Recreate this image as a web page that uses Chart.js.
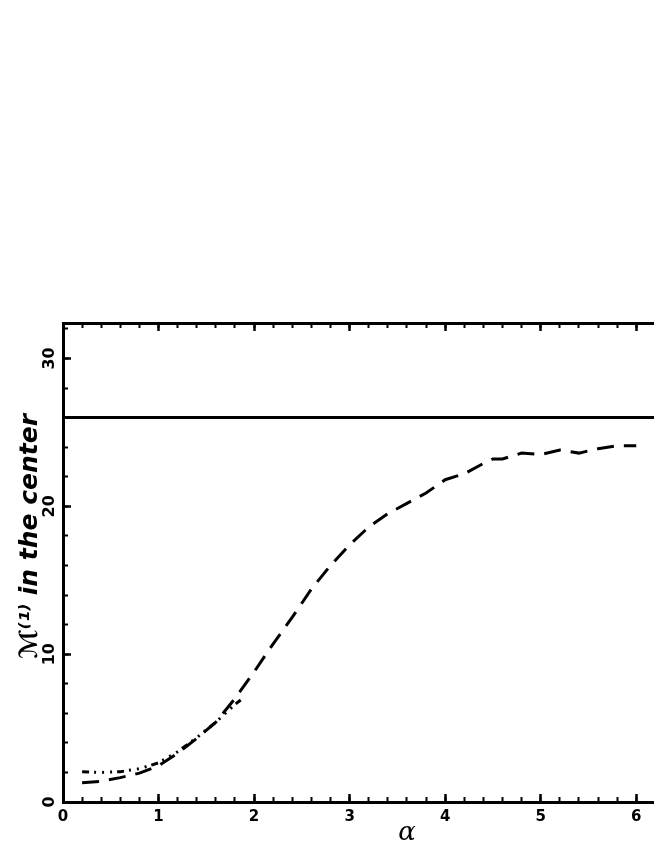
<!DOCTYPE html>
<html><head><meta charset="utf-8">
<script src="https://cdn.jsdelivr.net/npm/chart.js@4"></script>
<style>
html,body{margin:0;padding:0;background:#fff;overflow:hidden;}
#wrap{position:relative;width:751px;height:846px;}
</style></head><body>
<div id="wrap"><canvas id="c" width="751" height="846"></canvas></div>
<script>
// data
const dashedX = [0.2, 0.4, 0.6, 0.8, 1.0, 1.2, 1.4, 1.6, 1.8, 2.0, 2.2, 2.4, 2.6, 2.8, 3.0, 3.2, 3.4, 3.6, 3.8, 4.0, 4.2, 4.4, 4.5, 4.6, 4.8, 5.0, 5.2, 5.4, 5.6, 5.8, 6.0];
const dashedY = [1.3, 1.4, 1.65, 1.95, 2.45, 3.3, 4.3, 5.4, 7.0, 8.8, 10.7, 12.5, 14.4, 16.0, 17.4, 18.6, 19.5, 20.2, 20.9, 21.8, 22.2, 22.9, 23.2, 23.2, 23.6, 23.5, 23.8, 23.6, 23.9, 24.1, 24.1];
const dotX = [0.2, 0.4, 0.6, 0.8, 1.0, 1.2, 1.4, 1.6, 1.8, 1.86];
const dotY = [2.05, 2.0, 2.05, 2.25, 2.65, 3.4, 4.35, 5.4, 6.6, 6.9];
const refX = [0, 7.2];
const refY = [26, 26];
const xRange = [0, 7.2];
const yRange = [0, 32.4];
const xMajorStep = 1, xMinorStep = 0.2;
const yMajorStep = 10, yMinorStep = 2;
const xTitle = 'α';
const yTitle = '      ℳ⁽¹⁾ in the center';

const pts = (xs, ys) => xs.map((x, i) => ({x, y: ys[i]}));
const tickFontX = {family: 'DejaVu Sans', size: 15, weight: 'bold'};
const tickFontY = {family: 'DejaVu Sans', size: 16, weight: 'bold'};

function axis(pos, step, len, width, opts) {
  const horiz = pos === 'top' || pos === 'bottom';
  return Object.assign({
    type: 'linear', position: pos,
    min: horiz ? xRange[0] : yRange[0], max: horiz ? xRange[1] : yRange[1],
    ticks: {stepSize: step, includeBounds: false, display: false, autoSkip: false, color: '#000'},
    grid: {drawOnChartArea: false, drawTicks: true, tickLength: len, tickWidth: width, tickColor: '#000'},
    border: {display: false}
  }, opts);
}

new Chart(document.getElementById('c'), {
  type: 'line',
  data: {
    datasets: [
      {data: pts(refX, refY), borderColor: '#000', borderWidth: 3, pointRadius: 0, xAxisID: 'x', yAxisID: 'y'},
      {data: pts(dashedX, dashedY), borderColor: '#000', borderWidth: 3, borderDash: [17, 10], pointRadius: 0, xAxisID: 'x', yAxisID: 'y'},
      {data: pts(dotX, dotY), borderColor: '#000', borderWidth: 3, borderDash: [7, 5, 2, 6, 2, 6, 2, 5], pointRadius: 0, xAxisID: 'x', yAxisID: 'y'}
    ]
  },
  options: {
    responsive: false, animation: false, devicePixelRatio: 1,
    layout: {padding: {top: 323, left: 0, right: 0, bottom: 0}},
    plugins: {legend: {display: false}, tooltip: {enabled: false}},
    elements: {line: {tension: 0}},
    scales: {
      x: axis('bottom', xMajorStep, -8, 2.5, {
        weight: 1,
        ticks: {stepSize: xMajorStep, includeBounds: false, display: true, autoSkip: false, maxRotation: 0, padding: 14, color: '#000', font: tickFontX},
        border: {display: true, color: '#000', width: 3},
        title: {display: true, text: xTitle, color: '#000', font: {family: 'DejaVu Serif', size: 26, style: 'italic', lineHeight: 1}, padding: {top: 0, bottom: 0}},
        afterFit: s => { s.height = 44; }
      }),
      xMinor: axis('bottom', xMinorStep, -5, 2, {weight: 0, afterFit: s => { s.height = 0; }}),
      xTop: axis('top', xMajorStep, -8, 2.5, {weight: 1, border: {display: true, color: '#000', width: 3}, afterFit: s => { s.height = 0; }}),
      xTopMinor: axis('top', xMinorStep, -5, 2, {weight: 0, afterFit: s => { s.height = 0; }}),
      y: axis('left', yMajorStep, -8, 2.5, {
        weight: 1,
        ticks: {stepSize: yMajorStep, includeBounds: false, display: true, autoSkip: false, minRotation: 90, maxRotation: 90, crossAlign: 'center', padding: 10, color: '#000', font: tickFontY},
        border: {display: true, color: '#000', width: 3},
        title: {display: true, text: yTitle, color: '#000', font: {family: 'DejaVu Sans', size: 25, weight: 'bold', style: 'italic', lineHeight: 1}, padding: {top: 18, bottom: 0}},
        afterFit: s => { s.width = 63; }
      }),
      yMinor: axis('left', yMinorStep, -5, 2, {weight: 0, afterFit: s => { s.width = 0; }})
    }
  }
});
</script>
</body></html>
